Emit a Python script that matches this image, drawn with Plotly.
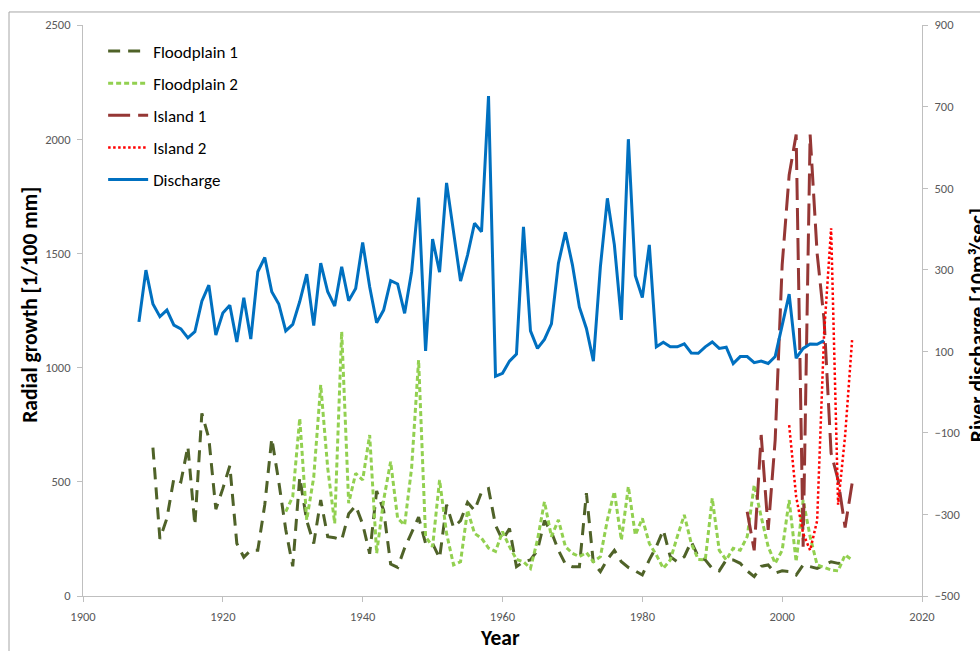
import plotly.graph_objects as go

# ---- data -------------------------------------------------------------
discharge_years = list(range(1908, 2007))
discharge = [
    172, 299, 216, 185, 201, 164, 155, 133, 148, 223,   # 1908-1917
    262, 140, 194, 213, 123, 231, 130, 295, 330, 246,   # 1918-1927
    216, 150, 166, 222, 289, 163, 316, 246, 211, 307,   # 1928-1937
    224, 254, 367, 258, 170, 201, 273, 265, 193, 295,   # 1938-1947
    477, 101, 375, 294, 513, 389, 272, 336, 414, 393,   # 1948-1957
    726, 39, 46, 76, 93, 405, 150, 107, 129, 167,       # 1958-1967
    316, 392, 312, 208, 156, 76, 307, 475, 361, 177,    # 1968-1977
    620, 285, 232, 361, 111, 122, 111, 111, 118, 96,    # 1978-1987
    95, 111, 123, 107, 110, 70, 87, 87, 72, 76,         # 1988-1997
    70, 87, 160, 240, 83, 107, 118, 117, 126,           # 1998-2006
]

floodplain1_years = list(range(1910, 2010))
floodplain1 = [
    650, 250, 340, 515, 500, 655, 310, 800, 690, 380,   # 1910-1919
    470, 570, 230, 170, 200, 200, 400, 690, 500, 290,   # 1920-1929
    130, 520, 330, 230, 420, 260, 255, 245, 360, 395,   # 1930-1939
    315, 185, 460, 375, 140, 125, 210, 280, 345, 230,   # 1940-1949
    230, 165, 400, 300, 330, 410, 375, 455, 470, 310,   # 1950-1959
    245, 295, 128, 150, 158, 200, 330, 280, 200, 140,   # 1960-1969
    128, 128, 450, 143, 107, 160, 200, 150, 125, 110,   # 1970-1979
    92, 158, 216, 289, 172, 150, 172, 238, 172, 158,    # 1980-1989
    120, 110, 158, 158, 143, 110, 85, 130, 136, 100,    # 1990-1999
    110, 107, 92, 136, 130, 121, 135, 150, 143, 140,    # 2000-2009
]

floodplain2_years = list(range(1929, 2011))
floodplain2 = [
    369,                                                # 1929
    435, 778, 333, 520, 924, 560, 318, 1157, 406, 537,  # 1930-1939
    508, 705, 187, 420, 588, 340, 311, 560, 1033, 260,  # 1940-1949
    216, 508, 274, 136, 150, 376, 274, 253, 210, 195,   # 1950-1959
    282, 216, 160, 150, 121, 245, 413, 260, 333, 216,   # 1960-1969
    187, 172, 190, 150, 172, 333, 457, 245, 479, 267,   # 1970-1979
    340, 230, 180, 121, 158, 260, 355, 230, 160, 158,   # 1980-1989
    428, 200, 158, 209, 200, 260, 486, 347, 216, 143,   # 1990-1999
    200, 420, 150, 420, 260, 136, 125, 114, 110, 180,   # 2000-2009
    158,                                                # 2010
]

island1_years = list(range(1995, 2011))
island1 = [369, 200, 705, 289, 683, 1450, 1843, 2020,
           216, 2020, 1500, 1208, 625, 508, 300, 493]

island2_years = list(range(2001, 2011))
island2 = [748, 435, 274, 200, 330, 1150, 1610, 400, 700, 1120]

left_ticks = [0, 500, 1000, 1500, 2000, 2500]
right_ticks = [-500, -300, -100, 100, 300, 500, 700, 900]
year_ticks = [1900, 1920, 1940, 1960, 1980, 2000, 2020]

# ---- styling ----------------------------------------------------------
FONT = "Calibri, Carlito, Lato, 'Open Sans', sans-serif"
AXIS_GREY = "#BFBFBF"
TICK_GREY = "#595959"
TITLE_SIZE = 21.5

fig = go.Figure()

series = [
    ("Floodplain 1", floodplain1_years, floodplain1, "#4F6228", "12px,8px", 3, "y"),
    ("Floodplain 2", floodplain2_years, floodplain2, "#92D050", "5px,3px", 3, "y"),
    ("Island 1", island1_years, island1, "#953735", "22px,8px", 3, "y"),
    ("Island 2", island2_years, island2, "#FF0000", "2.5px,2.5px", 2.5, "y"),
    ("Discharge", discharge_years, discharge, "#0070C0", "solid", 3, "y2"),
]

for name, xs, ys, color, dash, width, axis in series:
    fig.add_trace(go.Scatter(
        x=xs, y=ys, name=name, mode="lines", yaxis=axis,
        legendgroup=name,
        line=dict(color=color, width=width, dash=dash),
        hoverinfo="skip",
    ))

fig.update_layout(
    width=980, height=651,
    margin=dict(l=83, r=58, t=25, b=55),
    paper_bgcolor="white", plot_bgcolor="white",
    font=dict(family=FONT, color="#000000"),
    showlegend=True,
    legend=dict(
        x=0.024, y=0.985, xanchor="left", yanchor="top",
        font=dict(size=17, family=FONT, color="#000000"),
        bgcolor="rgba(0,0,0,0)", tracegroupgap=7,
        itemwidth=40,
    ),
    xaxis=dict(
        range=[1900, 2020], tickvals=year_ticks,
        showgrid=False, zeroline=False,
        showline=True, linecolor=AXIS_GREY, linewidth=1,
        ticks="outside", ticklen=5, tickcolor=AXIS_GREY,
        tickfont=dict(size=12.5, color=TICK_GREY, family=FONT),
        ticklabelstandoff=4,
    ),
    yaxis=dict(
        range=[0, 2500], tickvals=left_ticks,
        showgrid=False, zeroline=False,
        showline=True, linecolor=AXIS_GREY, linewidth=1,
        ticks="outside", ticklen=5, tickcolor=AXIS_GREY,
        tickfont=dict(size=12.5, color=TICK_GREY, family=FONT),
        ticklabelstandoff=4,
    ),
    yaxis2=dict(
        range=[-500, 900], tickvals=right_ticks,
        overlaying="y", side="right",
        showgrid=False, zeroline=False,
        showline=True, linecolor=AXIS_GREY, linewidth=1,
        ticks="outside", ticklen=5, tickcolor=AXIS_GREY,
        tickfont=dict(size=12.5, color=TICK_GREY, family=FONT),
        ticklabelstandoff=4,
    ),
    annotations=[
        dict(text="<b>Year</b>", xref="paper", yref="paper",
             x=0.497, y=-0.0736, xanchor="center", yanchor="middle",
             showarrow=False, font=dict(size=TITLE_SIZE, family=FONT)),
        dict(text="<b>Radial growth [1/100 mm]</b>", xref="paper", yref="paper",
             x=-0.0632, y=0.51, xanchor="center", yanchor="middle",
             textangle=-90, showarrow=False, font=dict(size=TITLE_SIZE, family=FONT)),
        dict(text="<b>River discharge [10m³/sec]</b>", xref="paper", yref="paper",
             x=1.066, y=0.475, xanchor="center", yanchor="middle",
             textangle=-90, showarrow=False, font=dict(size=TITLE_SIZE, family=FONT)),
    ],
    shapes=[
        # outer chart frame
        dict(type="rect", xref="paper", yref="paper",
             x0=-0.0882, x1=1.3, y0=-0.3, y1=1.0228,
             line=dict(color="#A6A6A6", width=1), fillcolor="rgba(0,0,0,0)",
             layer="below"),
    ],
)

fig.write_html("out.html")
